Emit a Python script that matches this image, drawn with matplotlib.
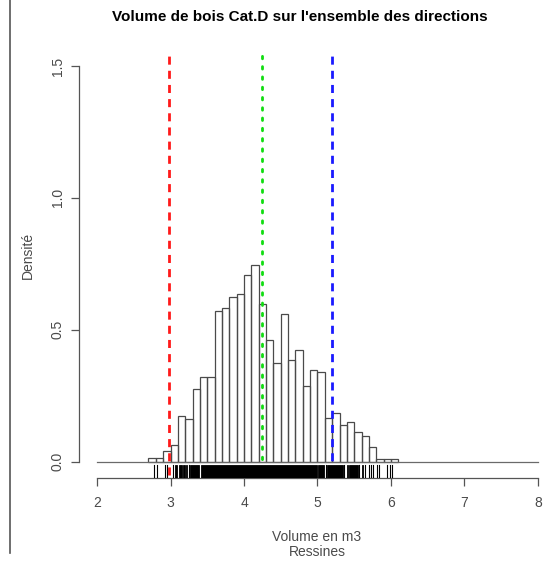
import numpy as np
import matplotlib
matplotlib.use("Agg")
import matplotlib.pyplot as plt
from matplotlib.lines import Line2D
from matplotlib.patches import Rectangle

plt.rcParams['font.family'] = ['Liberation Sans', 'DejaVu Sans']

# Histogram of wood volume (density scale), bins of 0.1 m3 starting at 2.7
bin_start = 2.7
bin_width = 0.1
density = [0.014, 0.014, 0.039, 0.064, 0.175, 0.161, 0.275, 0.322, 0.322,
           0.573, 0.584, 0.623, 0.636, 0.709, 0.744, 0.598, 0.460, 0.374,
           0.560, 0.384, 0.425, 0.286, 0.349, 0.340, 0.165, 0.186, 0.138,
           0.150, 0.112, 0.099, 0.054, 0.012, 0.012, 0.012]

# Reference lines: lower quantile, mean, upper quantile
q_low = 2.985
mean_vol = 4.24
q_high = 5.195

# Individual observations shown in the rug
rug_values = [2.776, 2.812, 2.929, 2.948, 3.030, 3.252, 5.109, 5.367,
              5.569, 5.642, 5.697, 5.724, 5.759, 5.805, 5.840, 5.940,
              5.986, 6.007]
# Stretches where the rug ticks are packed solid
rug_blocks = [(3.061, 3.084), (3.120, 3.156), (3.174, 3.193), (3.211, 3.229),
              (3.265, 3.392), (3.411, 4.989), (5.007, 5.088), (5.129, 5.351),
              (5.397, 5.415), (5.433, 5.555), (5.605, 5.623)]

x_ticks = [2, 3, 4, 5, 6, 7, 8]
y_ticks = [0.0, 0.5, 1.0, 1.5]
y_tick_labels = ['0.0', '0.5', '1.0', '1.5']

W, H = 550, 569
fig = plt.figure(figsize=(W / 100, H / 100), dpi=100)
ax = fig.add_axes([79.4 / W, (H - 477.5) / H, 476.2 / W, (477.5 - 50.2) / H])
ax.set_xlim(1.76, 8.24)
ax.set_ylim(-0.06, 1.56)

axis_col = '#555555'
text_col = '#4a4a4a'

# bars
lefts = bin_start + bin_width * np.arange(len(density))
ax.bar(lefts, density, width=bin_width, align='edge', facecolor='none',
       edgecolor='#4a4a4a', linewidth=0.9, zorder=2)

# zero line
ax.plot([2, 8], [0, 0], color='#6a6a6a', lw=0.9, zorder=2)

# vertical reference lines, drawn from the top down
ax.plot([q_low, q_low], [1.56, -0.06], color='#ff1a1a', lw=2.0,
        linestyle=(2.9, (2.9, 2.2)), zorder=3)
ax.plot([mean_vol, mean_vol], [1.56, -0.06], color='#11dd11', lw=2.0,
        linestyle=(1.6, (0.9, 2.8)), dash_capstyle='round', zorder=3)
ax.plot([q_high, q_high], [1.56, -0.06], color='#1a1aff', lw=2.0,
        linestyle=(2.9, (2.9, 2.2)), zorder=3)

# rug
rug_lo, rug_hi = -0.06, -0.0115
for v in rug_values:
    ax.plot([v, v], [rug_lo, rug_hi], color='black', lw=0.8, zorder=4)
for a, b in rug_blocks:
    ax.add_patch(Rectangle((a, rug_lo), b - a, rug_hi - rug_lo,
                           facecolor='black', edgecolor='black', lw=0.6, zorder=4))

# axes in base-graphics style
for s in ['top', 'right']:
    ax.spines[s].set_visible(False)
ax.spines['left'].set_bounds(0, 1.5)
ax.spines['bottom'].set_bounds(2, 8)
for s in ['left', 'bottom']:
    ax.spines[s].set_color(axis_col)
    ax.spines[s].set_linewidth(0.9)
ax.set_xticks(x_ticks)
ax.set_xticklabels([str(t) for t in x_ticks])
ax.set_yticks(y_ticks)
ax.set_yticklabels(y_tick_labels)
ax.tick_params(axis='both', direction='out', length=5.5, width=0.9,
               color=axis_col, labelcolor=text_col, labelsize=10)
ax.tick_params(axis='x', pad=8)
ax.tick_params(axis='y', pad=5)
for lab in ax.get_yticklabels():
    lab.set_rotation(90)
    lab.set_va('center')

fig.text(300 / W, 1 - 17 / H, "Volume de bois Cat.D sur l'ensemble des directions",
         ha='center', va='center', fontsize=11, fontweight='bold', color='black')
fig.text(28 / W, 1 - 255 / H, 'Densité', rotation=90, ha='center', va='center',
         fontsize=10, color=text_col)
fig.text(317 / W, 1 - 537 / H, 'Volume en m3', ha='center', va='center',
         fontsize=10, color=text_col)
fig.text(317 / W, 1 - 552 / H, 'Ressines', ha='center', va='center',
         fontsize=10, color=text_col)

# left frame edge
fig.add_artist(Line2D([10 / W, 10 / W], [1 - 553 / H, 1], color='#555555', lw=1.2))

fig.savefig('out.png', dpi=100)
